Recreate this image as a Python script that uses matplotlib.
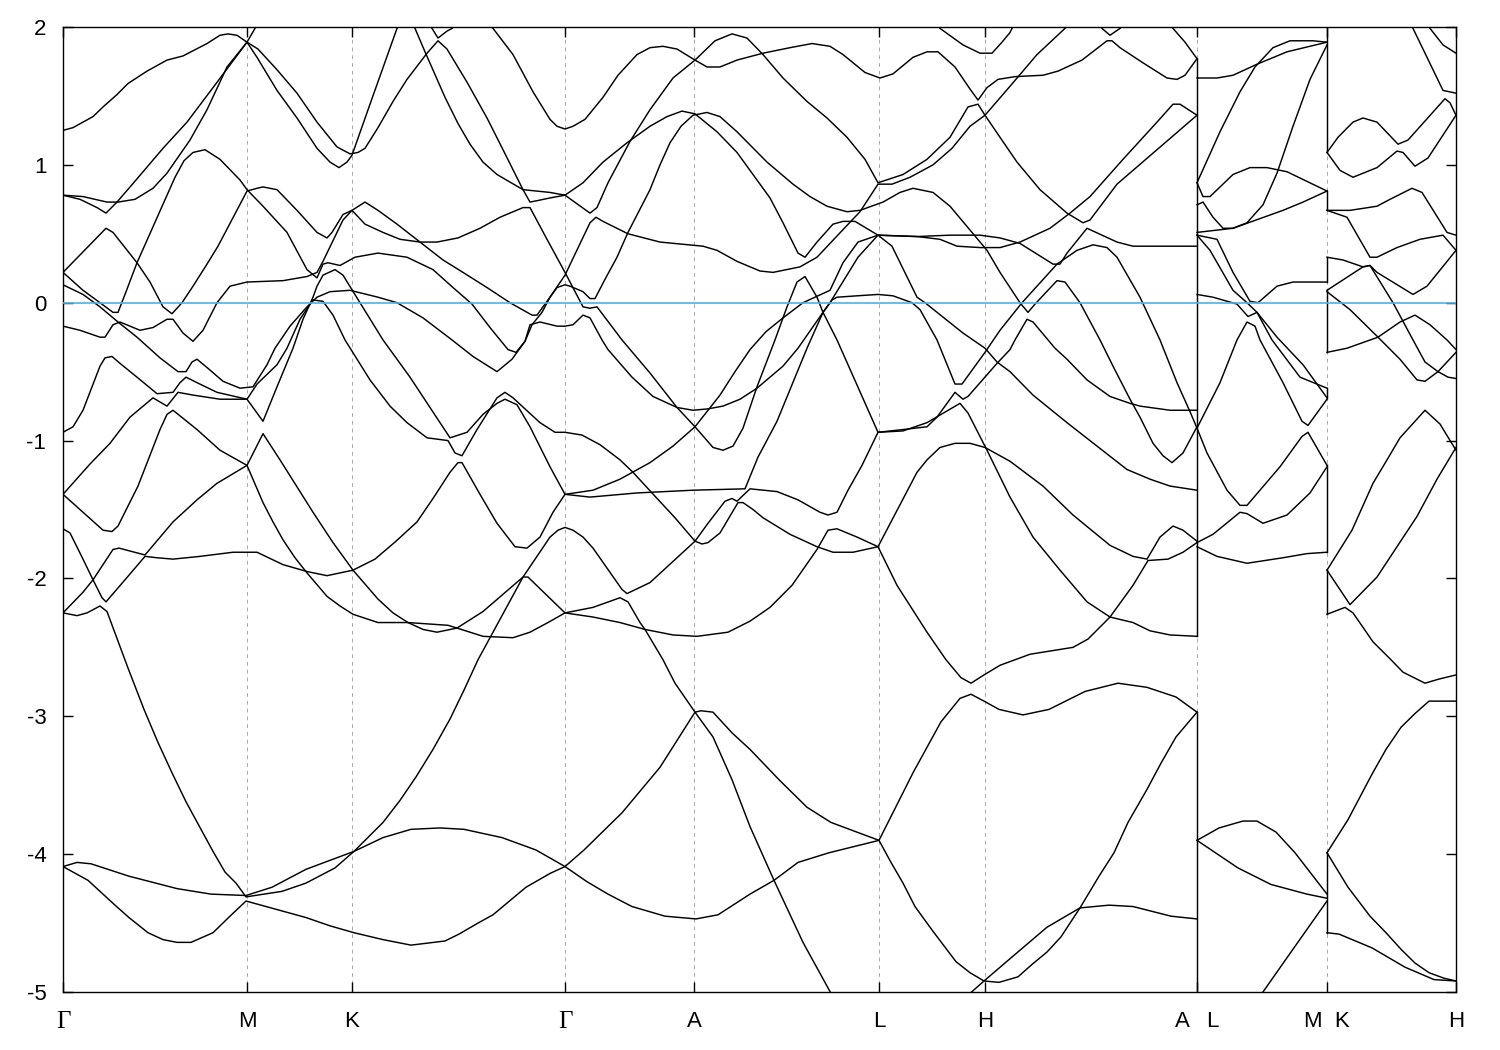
# band structure along the k path, energies in eV
import matplotlib
matplotlib.use('Agg')
import matplotlib.pyplot as plt

# k path ticks
tick_k = [0, 1.84, 2.89, 5.02, 6.31, 8.16, 9.22, 11.34, 12.64, 13.93]
tick_lab = ['\u0393', 'M', 'K', '\u0393', 'A', 'L', 'H', 'A   L', 'M  K', 'H']
e_ticks = [-5, -4, -3, -2, -1, 0, 1, 2]

# bands, as (k, energy)
# first part of the path: Gamma-M-K-Gamma-A-L-H-A
b01 = [(0,1.25),(.10,1.27),(.30,1.35),(.40,1.42),(.54,1.51),(.65,1.59),(.84,1.68),(1.04,1.76),(1.20,1.79),(1.44,1.88),(1.57,1.94),(1.65,1.95),(1.74,1.94),(1.84,1.89),(1.95,1.84),(2.14,1.69),(2.34,1.52),(2.54,1.31),(2.74,1.13),(2.87,1.08),(2.95,1.09),(3.02,1.12),(3.15,1.27),(3.30,1.46),(3.44,1.62),(3.64,1.81),(3.75,1.90),(3.84,1.84),(4.04,1.60),(4.24,1.34),(4.40,1.11),(4.60,.82),(4.67,.73),(4.74,.74),(4.87,.76),(5.02,.78)]
b02 = [(1.84,1.89),(1.94,1.78),(2.14,1.54),(2.34,1.34),(2.54,1.12),(2.67,1.02),(2.76,.98),(2.84,1.02),(2.89,1.07),(3.07,1.44),(3.34,1.99),(3.45,2.12),(3.52,1.99),(3.62,1.82),(3.82,1.49),(3.95,1.30),(4.07,1.15),(4.20,1.02),(4.34,.93),(4.60,.82),(4.87,.80),(5.02,.78)]
b03 = [(0,.78),(.20,.77),(.44,.73),(.55,.73),(.72,.75),(.90,.83),(1.04,.94),(1.27,1.18),(1.44,1.40),(1.64,1.71),(1.84,1.89),(1.92,1.99),(1.97,2.07)]
b04 = [(3.62,2.07),(3.69,1.99),(3.75,1.92),(3.84,1.97),(3.89,1.99),(3.97,2.05),(4.10,2.12),(4.30,1.99),(4.50,1.80),(4.70,1.53),(4.87,1.33),(4.94,1.28),(5.02,1.26),(5.10,1.28),(5.22,1.33),(5.40,1.49),(5.55,1.65),(5.74,1.80),(5.87,1.85),(6.00,1.86),(6.14,1.84),(6.32,1.76),(6.44,1.71),(6.57,1.71),(6.74,1.76),(7.00,1.81),(7.27,1.85),(7.49,1.88),(7.67,1.86),(7.80,1.80),(8.02,1.67),(8.17,1.63),(8.30,1.66),(8.50,1.78),(8.64,1.82),(8.75,1.82),(8.92,1.71),(9.07,1.55),(9.15,1.47),(9.24,1.56),(9.35,1.62),(9.52,1.64),(9.80,1.65),(9.95,1.68),(10.19,1.76),(10.44,1.90),(10.49,1.90),(10.57,1.85),(10.80,1.74),(11.04,1.63),(11.14,1.62),(11.22,1.65),(11.34,1.77)]
b05 = [(0,.78),(.17,.75),(.34,.69),(.43,.65),(.54,.73),(.73,.89),(1.00,1.12),(1.24,1.31),(1.50,1.56),(1.84,1.89)]
b06 = [(0,.22),(.43,.54),(.50,.51),(.74,.29),(.87,.15),(1.00,-.03),(1.09,-.08),(1.19,0),(1.30,.12),(1.44,.28),(1.55,.41),(1.84,.81),(1.94,.83),(2.00,.84),(2.14,.82),(2.34,.67),(2.54,.51),(2.64,.47),(2.69,.51),(2.80,.64),(2.89,.67),(3.02,.73),(3.15,.67),(3.34,.57),(3.57,.44),(3.80,.31),(4.00,.22),(4.24,.11),(4.47,0),(4.69,-.09),(4.74,-.09),(4.80,-.03),(4.94,.11),(5.02,.13),(5.07,.12),(5.20,.08),(5.27,.03),(5.32,.03),(5.42,.17),(5.54,.33),(5.65,.51),(5.87,.82),(5.97,1.00),(6.07,1.16),(6.18,1.28),(6.30,1.36),(6.44,1.38),(6.57,1.35),(6.74,1.24),(7.04,1.02),(7.30,.86),(7.47,.77),(7.64,.70),(7.84,.66),(7.97,.67),(8.20,.73),(8.37,.80),(8.50,.83),(8.70,.80),(8.87,.70),(9.09,.51),(9.24,.38),(9.37,.22),(9.57,0),(9.65,-.07),(9.72,-.01),(9.94,.16),(10.02,.15),(10.17,0),(10.37,-.27),(10.50,-.46),(10.67,-.70),(10.77,-.83),(10.90,-1.02),(11.00,-1.11),(11.09,-1.16),(11.20,-1.09),(11.34,-.90)]
b07 = [(0,.22),(.20,.09),(.37,0),(.50,-.07),(.55,-.07),(.62,.06),(.74,.29),(.93,.60),(1.12,.91),(1.21,1.03),(1.30,1.09),(1.42,1.11),(1.57,1.04),(1.77,.89),(1.84,.82),(2.00,.70),(2.24,.51),(2.44,.24),(2.54,.18),(2.60,.28),(2.65,.29),(2.77,.27),(2.92,.33),(3.15,.36),(3.44,.33),(3.70,.24),(3.90,.11),(4.09,-.01),(4.27,-.18),(4.45,-.34),(4.53,-.36),(4.62,-.28),(4.69,-.16),(4.79,-.07),(4.87,.04),(5.02,.20),(5.27,.58),(5.33,.62),(5.40,.59),(5.65,.50),(5.97,.44),(6.40,.41),(6.54,.38),(6.74,.30),(6.97,.23),(7.10,.22),(7.37,.26),(7.54,.33),(7.80,.53),(7.97,.66),(8.15,.86),(8.29,.86),(8.47,.91),(8.70,1.00),(8.89,1.12),(9.07,1.28),(9.22,1.36),(9.47,1.57),(9.74,1.80),(10.02,1.99),(10.09,2.05)]
b08 = [(0,-.17),(.17,-.20),(.37,-.25),(.42,-.25),(.50,-.16),(.57,-.14),(.77,-.20),(.90,-.18),(1.04,-.12),(1.10,-.12),(1.20,-.22),(1.30,-.28),(1.40,-.20),(1.54,0),(1.67,.12),(1.84,.15),(2.20,.16),(2.44,.19),(2.54,.22),(2.60,.30),(2.80,.60),(2.89,.67),(3.02,.57),(3.20,.51),(3.37,.46),(3.57,.44),(3.74,.44),(3.95,.47),(4.17,.54),(4.37,.62),(4.60,.69),(4.67,.69),(4.84,.46),(5.02,.22),(5.20,-.03),(5.27,-.04),(5.34,-.03),(5.59,-.27),(5.87,-.51),(6.14,-.76),(6.32,-.90),(6.50,-1.05),(6.60,-1.07),(6.70,-1.04),(6.80,-.91),(6.94,-.61),(7.12,-.27),(7.24,-.03),(7.34,.15),(7.42,.19),(7.54,.04),(7.60,-.07),(7.74,-.27),(8.15,-.94),(8.40,-.93),(8.64,-.87),(8.97,-.73),(9.05,-.80),(9.24,-1.07),(9.47,-1.41),(9.70,-1.70),(9.97,-1.94),(10.24,-2.17),(10.47,-2.28),(10.70,-2.32),(10.87,-2.38),(11.07,-2.41),(11.34,-2.42)]
b09 = [(0,.13),(.20,.06),(.37,-.03),(.55,-.14),(.74,-.25),(.97,-.40),(1.15,-.50),(1.23,-.50),(1.29,-.43),(1.34,-.41),(1.44,-.47),(1.60,-.57),(1.77,-.62),(1.90,-.61),(2.04,-.45),(2.12,-.33),(2.27,-.17),(2.44,-.03),(2.54,.04),(2.67,.08),(2.87,.09),(3.15,.04),(3.34,0),(3.60,-.11),(3.89,-.27),(4.10,-.39),(4.34,-.50),(4.49,-.41),(4.62,-.28),(4.67,-.16),(4.77,-.14),(4.94,-.17),(5.02,-.17),(5.10,-.16),(5.20,-.09),(5.27,-.11),(5.39,-.27),(5.45,-.34),(5.69,-.54),(5.90,-.68),(6.14,-.76),(6.30,-.78),(6.45,-.77),(6.60,-.75),(6.77,-.70),(6.94,-.62),(7.20,-.46),(7.35,-.33),(7.60,-.07),(7.67,0),(7.95,.33),(8.15,.49),(8.54,.48),(8.77,.46),(8.94,.41),(9.17,.40),(9.37,.40),(9.57,.44),(9.87,.54),(10.07,.65),(10.27,.77),(10.60,1.04),(10.94,1.31),(11.10,1.44),(11.17,1.44),(11.34,1.36)]
b10 = [(0,-.94),(.10,-.90),(.20,-.78),(.37,-.46),(.42,-.40),(.49,-.39),(.57,-.44),(.74,-.54),(.94,-.66),(1.10,-.65),(1.17,-.58),(1.23,-.54),(1.34,-.58),(1.54,-.65),(1.84,-.70),(1.94,-.59),(2.14,-.45),(2.24,-.33),(2.37,-.12),(2.50,.02),(2.60,.01),(2.70,-.09),(2.82,-.27),(3.07,-.56),(3.27,-.75),(3.44,-.87),(3.64,-.98),(3.85,-1.00),(3.92,-1.09),(3.99,-1.11),(4.14,-.92),(4.34,-.69),(4.42,-.65),(4.50,-.69),(4.77,-.87),(4.92,-.94),(5.02,-.94),(5.19,-.96),(5.37,-1.03),(5.57,-1.14),(5.70,-1.23),(5.89,-1.38),(6.12,-1.56),(6.32,-1.73),(6.39,-1.75),(6.45,-1.74),(6.57,-1.67),(6.75,-1.45),(6.80,-1.45),(6.90,-1.50),(7.00,-1.56),(7.27,-1.68),(7.54,-1.77),(7.70,-1.81),(7.90,-1.81),(8.15,-1.77),(8.54,-1.23),(8.64,-1.14),(8.77,-1.05),(8.92,-1.02),(9.07,-1.02),(9.22,-1.05),(9.47,-1.15),(9.80,-1.33),(10.10,-1.54),(10.47,-1.76),(10.70,-1.84),(10.84,-1.86),(10.97,-1.70),(11.10,-1.62),(11.20,-1.65),(11.34,-1.73)]
b11 = [(0,-1.39),(.27,-1.17),(.47,-1.02),(.67,-.83),(.90,-.69),(1.04,-.75),(1.15,-.65),(1.30,-.67),(1.57,-.70),(1.84,-.70),(2.00,-.86),(2.14,-.61),(2.30,-.33),(2.40,-.12),(2.50,.04),(2.54,.12),(2.60,.20),(2.72,.24),(2.80,.20),(2.97,0),(3.20,-.27),(3.47,-.54),(3.87,-.98),(4.04,-.94),(4.20,-.81),(4.34,-.73),(4.42,-.70),(4.54,-.74),(4.67,-.90),(4.87,-1.19),(5.02,-1.39),(5.27,-1.41),(5.74,-1.38),(6.30,-1.36),(6.82,-1.35),(6.95,-1.12),(7.14,-.86),(7.44,-.33),(7.60,-.07),(7.69,.02),(7.74,.04),(7.94,.05),(8.15,.06),(8.30,.05),(8.49,0),(8.57,-.05),(8.74,-.27),(8.92,-.59),(8.99,-.59),(9.22,-.36),(9.37,-.20),(9.59,0),(9.94,.28),(10.14,.38),(10.30,.42),(10.44,.40),(10.54,.33),(10.77,.04),(10.97,-.27),(11.14,-.58),(11.27,-.79),(11.34,-.91)]
b12 = [(0,-1.39),(.20,-1.52),(.40,-1.65),(.49,-1.66),(.55,-1.62),(.75,-1.33),(.97,-.92),(1.04,-.81),(1.10,-.78),(1.34,-.92),(1.57,-1.07),(1.84,-1.18),(2.00,-1.45),(2.10,-1.59),(2.20,-1.72),(2.32,-1.85),(2.44,-1.96),(2.64,-2.13),(2.77,-2.20),(2.90,-2.26),(3.15,-2.32),(3.45,-2.32),(3.85,-2.34),(3.94,-2.36),(4.20,-2.42),(4.50,-2.43),(4.67,-2.39),(4.85,-2.32),(5.02,-2.25),(5.30,-2.28),(5.57,-2.32),(5.82,-2.37),(6.10,-2.41),(6.34,-2.42),(6.65,-2.39),(6.87,-2.31),(7.07,-2.21),(7.29,-2.05),(7.54,-1.79),(7.65,-1.65),(7.74,-1.64),(7.94,-1.70),(8.15,-1.77),(8.34,-2.05),(8.64,-2.39),(8.83,-2.59),(8.98,-2.72),(9.08,-2.76),(9.21,-2.70),(9.37,-2.63),(9.67,-2.55),(10.10,-2.50),(10.25,-2.44),(10.47,-2.28),(10.70,-2.05),(10.85,-1.87),(11.05,-1.86),(11.20,-1.81),(11.34,-1.74)]
b13 = [(0,-2.25),(.20,-2.10),(.30,-2.01),(.50,-1.79),(.56,-1.78),(.82,-1.83),(1.10,-1.59),(1.34,-1.43),(1.54,-1.31),(1.84,-1.18),(2.00,-.95),(2.17,-1.14),(2.50,-1.52),(2.70,-1.74),(2.90,-1.94),(3.15,-2.15),(3.30,-2.25),(3.45,-2.32),(3.60,-2.37),(3.74,-2.39),(3.94,-2.36),(4.20,-2.24),(4.60,-1.99),(4.65,-1.99),(5.02,-2.25),(5.30,-2.21),(5.57,-2.14),(5.65,-2.17),(5.77,-2.32),(5.82,-2.37),(6.00,-2.59),(6.12,-2.76),(6.32,-2.97),(6.50,-3.15),(6.69,-3.46),(6.87,-3.80),(7.11,-4.19),(7.40,-4.64),(7.68,-5.01)]
b14 = [(0,-1.64),(.07,-1.67),(.20,-1.86),(.30,-2.01),(.39,-2.14),(.43,-2.17),(.62,-2.01),(.82,-1.84),(.94,-1.85),(1.10,-1.86),(1.37,-1.84),(1.70,-1.81),(1.94,-1.81),(2.20,-1.90),(2.44,-1.95),(2.64,-1.98),(2.90,-1.94),(3.12,-1.86),(3.33,-1.73),(3.54,-1.59),(3.70,-1.42),(3.87,-1.23),(3.95,-1.16),(3.99,-1.16),(4.17,-1.39),(4.34,-1.60),(4.52,-1.77),(4.64,-1.78),(4.77,-1.70),(4.90,-1.52),(5.02,-1.39),(5.30,-1.36),(5.57,-1.28),(5.87,-1.16),(6.10,-1.04),(6.32,-.90),(6.57,-.67),(6.72,-.50),(6.87,-.34),(7.03,-.21),(7.20,-.11),(7.40,0),(7.67,.09),(7.80,.29),(7.95,.44),(8.15,.49),(8.54,.48),(8.87,.49),(9.17,.49),(9.37,.47),(9.57,.43),(9.90,.28),(9.97,.28),(10.04,.36),(10.24,.54),(10.54,.44),(10.70,.41),(10.97,.41),(11.34,.41)]
b15 = [(0,-2.25),(.14,-2.27),(.24,-2.25),(.37,-2.20),(.44,-2.24),(.65,-2.65),(.81,-2.95),(.95,-3.19),(1.09,-3.41),(1.23,-3.62),(1.38,-3.82),(1.50,-3.98),(1.62,-4.13),(1.73,-4.21),(1.83,-4.31),(2.19,-4.27),(2.43,-4.21),(2.72,-4.10),(2.91,-3.98),(3.20,-3.77),(3.37,-3.61),(3.53,-3.44),(3.70,-3.24),(3.87,-3.02),(4.01,-2.81),(4.15,-2.59),(4.30,-2.39),(4.60,-1.99),(4.87,-1.70),(4.95,-1.65),(5.02,-1.63),(5.10,-1.65),(5.20,-1.70),(5.30,-1.78),(5.59,-2.08),(5.64,-2.11),(5.87,-2.03),(6.32,-1.73),(6.45,-1.60),(6.62,-1.44),(6.69,-1.42),(6.74,-1.44),(6.87,-1.35),(7.14,-1.37),(7.35,-1.43),(7.57,-1.52),(7.65,-1.54),(7.74,-1.52),(7.85,-1.36),(7.99,-1.18),(8.15,-.94),(8.40,-.92),(8.64,-.90),(8.74,-.83),(8.92,-.65),(9.00,-.70),(9.05,-.68),(9.34,-.44),(9.47,-.34),(9.52,-.27),(9.64,-.12),(9.70,-.14),(9.92,-.33),(10.04,-.41),(10.24,-.56),(10.47,-.68),(10.67,-.73),(10.77,-.75),(11.07,-.78),(11.24,-.78),(11.34,-.78)]
b16 = [(0,-4.09),(.14,-4.06),(.28,-4.07),(.66,-4.16),(1.14,-4.25),(1.48,-4.29),(1.83,-4.30),(2.09,-4.24),(2.43,-4.11),(2.91,-3.98),(3.20,-3.88),(3.48,-3.82),(3.77,-3.81),(4.01,-3.82),(4.39,-3.88),(4.73,-3.97),(5.02,-4.09),(5.24,-4.20),(5.45,-4.29),(5.69,-4.38),(6.02,-4.45),(6.33,-4.47),(6.55,-4.44),(6.87,-4.29),(7.11,-4.19),(7.35,-4.06),(7.66,-3.99),(8.16,-3.90),(8.28,-4.06),(8.40,-4.21),(8.52,-4.38),(8.69,-4.55),(8.93,-4.78),(9.07,-4.86),(9.21,-4.92),(9.36,-4.93),(9.55,-4.89),(9.69,-4.80),(9.84,-4.71),(9.98,-4.60),(10.17,-4.39),(10.36,-4.16),(10.51,-3.99),(10.65,-3.77),(10.84,-3.53),(10.98,-3.34),(11.13,-3.15),(11.34,-2.97)]
b17 = [(0,-4.09),(.25,-4.19),(.52,-4.37),(.66,-4.46),(.85,-4.57),(1.00,-4.62),(1.14,-4.64),(1.28,-4.64),(1.50,-4.57),(1.67,-4.45),(1.83,-4.34),(2.43,-4.46),(2.67,-4.52),(2.91,-4.57),(3.20,-4.62),(3.48,-4.66),(3.82,-4.63),(3.96,-4.58),(4.15,-4.50),(4.30,-4.44),(4.63,-4.24),(4.87,-4.14),(5.02,-4.09),(5.21,-3.97),(5.59,-3.70),(5.97,-3.37),(6.32,-2.97),(6.38,-2.96),(6.50,-2.97),(6.69,-3.12),(6.87,-3.24),(7.16,-3.46),(7.44,-3.66),(7.68,-3.77),(8.16,-3.90),(8.50,-3.41),(8.78,-3.04),(8.97,-2.87),(9.08,-2.84),(9.21,-2.89),(9.36,-2.95),(9.60,-2.99),(9.86,-2.95),(10.22,-2.82),(10.55,-2.76),(10.84,-2.79),(11.13,-2.86),(11.34,-2.97)]
b18 = [(9.07,-5.01),(9.21,-4.92),(9.50,-4.74),(9.84,-4.53),(10.17,-4.39),(10.46,-4.37),(10.70,-4.38),(11.08,-4.45),(11.34,-4.47)]
b19 = [(5.02,.78),(5.27,.65),(5.34,.69),(5.45,.87),(5.67,1.17),(5.87,1.40),(6.10,1.63),(6.32,1.76),(6.52,1.90),(6.69,1.95),(6.84,1.92),(7.00,1.80),(7.20,1.63),(7.44,1.46),(7.64,1.34),(7.84,1.20),(8.02,1.04),(8.15,.87),(8.40,.93),(8.64,1.04),(8.87,1.20),(9.05,1.42),(9.15,1.44),(9.22,1.36),(9.37,1.20),(9.54,1.02),(9.77,.82),(10.04,.65),(10.20,.58),(10.27,.60),(10.54,.86),(10.94,1.11),(11.34,1.36)]
b20 = [(5.02,.78),(5.20,.87),(5.40,1.02),(5.64,1.16),(5.87,1.28),(6.04,1.35),(6.19,1.39),(6.32,1.37),(6.54,1.24),(6.74,1.09),(6.87,.96),(7.07,.76),(7.20,.58),(7.35,.36),(7.42,.33),(7.54,.44),(7.70,.57),(7.80,.59),(7.92,.59),(8.15,.49),(8.29,.41),(8.54,.04),(8.62,0),(9.00,-.22),(9.22,-.33),(9.34,-.43),(9.47,-.50),(9.70,-.67),(10.04,-.87),(10.34,-1.04),(10.64,-1.21),(10.87,-1.28),(11.07,-1.33),(11.34,-1.36)]
b21 = [(8.69,2.05),(8.77,1.99),(9.00,1.87),(9.17,1.81),(9.29,1.81),(9.39,1.89),(9.47,1.96),(9.53,2.05)]
b22 = [(10.32,2.05),(10.39,1.99),(10.47,1.94),(10.57,1.99),(10.65,2.05)]
b23 = [(11.02,2.05),(11.10,1.99),(11.22,1.89),(11.34,1.77)]

# L-M
lm01 = [(11.34,.87),(11.57,1.24),(11.77,1.53),(11.92,1.71),(12.10,1.85),(12.27,1.90),(12.50,1.90),(12.64,1.89)]
lm02 = [(11.34,1.63),(11.54,1.63),(11.70,1.65),(11.94,1.73),(12.24,1.82),(12.64,1.89)]
lm03 = [(11.34,.51),(11.70,.54),(12.20,.67),(12.40,.73),(12.64,.81)]
lm04 = [(11.34,.87),(11.40,.77),(11.47,.77),(11.70,.93),(11.87,.98),(12.04,.98),(12.24,.95),(12.64,.81)]
lm05 = [(11.34,.71),(11.40,.73),(11.50,.62),(11.60,.54),(11.70,.54),(11.84,.58),(12.00,.71),(12.14,.94),(12.30,1.28),(12.47,1.62),(12.64,1.87)]
lm06 = [(11.34,.49),(11.54,.46),(11.70,.22),(11.87,.01),(11.95,0),(12.14,.12),(12.30,.15),(12.64,.15)]
lm07 = [(11.34,.49),(11.47,.38),(11.70,.09),(11.84,0),(11.94,-.07),(12.14,-.25),(12.40,-.45),(12.64,-.69)]
lm08 = [(11.34,.06),(11.50,.04),(11.74,-.01),(11.85,-.10),(11.94,-.07),(12.09,-.27),(12.37,-.54),(12.64,-.62)]
lm09 = [(11.34,-.91),(11.57,-.58),(11.74,-.27),(11.84,-.14),(11.92,-.17),(11.97,-.27),(12.20,-.58),(12.39,-.86),(12.45,-.89),(12.64,-.70)]
lm10 = [(11.34,-.91),(11.44,-1.09),(11.64,-1.36),(11.77,-1.47),(11.84,-1.47),(12.17,-1.19),(12.39,-.97),(12.45,-.94),(12.64,-1.18)]
lm11 = [(11.34,-1.74),(11.50,-1.68),(11.77,-1.52),(11.84,-1.53),(12.00,-1.60),(12.24,-1.54),(12.47,-1.38),(12.64,-1.19)]
lm12 = [(11.34,-1.77),(11.54,-1.84),(11.84,-1.89),(12.20,-1.85),(12.44,-1.82),(12.64,-1.81)]
lm13 = [(11.34,-3.90),(11.56,-3.81),(11.80,-3.76),(11.94,-3.76),(12.13,-3.84),(12.32,-3.99),(12.64,-4.29)]
lm14 = [(11.34,-3.90),(11.75,-4.10),(12.08,-4.22),(12.44,-4.29),(12.64,-4.32)]
lm15 = [(11.99,-5.01),(12.28,-4.71),(12.64,-4.34)]

# K-H
kh01 = [(12.64,1.09),(12.75,1.20),(12.90,1.31),(13.00,1.34),(13.14,1.31),(13.35,1.15),(13.45,1.18),(13.82,1.48),(13.87,1.45),(13.93,1.36)]
kh02 = [(12.64,1.09),(12.77,.96),(12.90,.91),(13.14,.98),(13.34,1.10),(13.40,1.09),(13.52,.99),(13.65,1.05),(13.93,1.36)]
kh03 = [(13.45,2.05),(13.50,1.99),(13.80,1.54),(13.93,1.52)]
kh04 = [(13.62,2.05),(13.67,1.99),(13.80,1.87),(13.93,1.81)]
kh05 = [(12.64,.67),(12.87,.67),(13.14,.70),(13.27,.75),(13.49,.83),(13.59,.80),(13.84,.51),(13.93,.49)]
kh06 = [(12.64,.67),(12.84,.62),(13.07,.33),(13.14,.33),(13.34,.40),(13.57,.46),(13.80,.49),(13.93,.38)]
kh07 = [(12.64,.09),(13.00,.26),(13.07,.27),(13.14,.22),(13.50,.06),(13.64,.12),(13.93,.38)]
kh08 = [(12.64,.33),(12.80,.31),(13.00,.26),(13.07,.27),(13.30,0),(13.50,-.27),(13.62,-.43),(13.75,-.50),(13.85,-.54),(13.93,-.55)]
kh09 = [(12.64,.08),(12.87,-.05),(13.15,-.25),(13.37,-.41),(13.54,-.56),(13.62,-.57),(13.75,-.50),(13.93,-.36)]
kh10 = [(12.64,-.36),(12.84,-.33),(13.15,-.25),(13.37,-.14),(13.52,-.09),(13.67,-.16),(13.84,-.27),(13.93,-.34)]
kh11 = [(12.64,-1.94),(12.89,-1.65),(13.10,-1.31),(13.24,-1.14),(13.37,-.98),(13.62,-.78),(13.77,-.88),(13.93,-1.07)]
kh12 = [(12.64,-1.94),(12.87,-2.19),(13.14,-1.99),(13.34,-1.77),(13.54,-1.55),(13.74,-1.28),(13.93,-1.05)]
kh13 = [(12.64,-2.26),(12.82,-2.21),(12.90,-2.25),(13.10,-2.46),(13.28,-2.59),(13.40,-2.68),(13.62,-2.76),(13.76,-2.73),(13.93,-2.70)]
kh14 = [(12.64,-3.99),(12.85,-3.75),(13.09,-3.42),(13.23,-3.24),(13.38,-3.08),(13.52,-2.98),(13.66,-2.89),(13.93,-2.89)]
kh15 = [(12.64,-3.99),(12.85,-4.24),(13.07,-4.45),(13.23,-4.57),(13.38,-4.69),(13.52,-4.79),(13.66,-4.86),(13.81,-4.90),(13.93,-4.92)]
kh16 = [(12.64,-4.57),(12.76,-4.58),(13.09,-4.68),(13.42,-4.82),(13.71,-4.91),(13.93,-4.92)]

# vertical jumps where the path is broken
jump_al = [(1.77,-2.42),(-2.97,-5.05)]
jump_mk = [(2.05,1.09),(.81,.67),(.33,.15),(.09,-.36),(-.62,-.69),(-1.18,-1.81),(-1.94,-2.26),(-3.99,-4.57)]

bands = [b01,b02,b03,b04,b05,b06,b07,b08,b09,b10,b11,b12,b13,b14,b15,b16,b17,b18,b19,b20,b21,b22,b23,
         lm01,lm02,lm03,lm04,lm05,lm06,lm07,lm08,lm09,lm10,lm11,lm12,lm13,lm14,lm15,
         kh01,kh02,kh03,kh04,kh05,kh06,kh07,kh08,kh09,kh10,kh11,kh12,kh13,kh14,kh15,kh16]

plt.rcParams['font.family'] = ['Liberation Sans', 'DejaVu Sans']
plt.rcParams['axes.unicode_minus'] = False

fig = plt.figure(figsize=(15, 10.5), dpi=100)
ax = fig.add_axes([63/1500, 58/1050, 1393/1500, 965/1050])

# k points
ax.grid(axis='x', color='#a8a8a8', lw=0.7, ls=(0, (4, 4)), zorder=1)

# the bands
for b in bands:
    ax.plot([p[0] for p in b], [p[1] for p in b], color='black', lw=1.05, zorder=3)
for top, low in jump_al:
    ax.plot([tick_k[7], tick_k[7]], [top, low], color='black', lw=1.05, zorder=3)
for top, low in jump_mk:
    ax.plot([tick_k[8], tick_k[8]], [top, low], color='black', lw=1.05, zorder=3)

# Fermi level
ax.axhline(0, color='#4fb0e6', lw=1.2, zorder=4)

ax.set_xlim(0, 13.93)
ax.set_ylim(-5, 2)
ax.set_xticks(tick_k)
ax.set_xticklabels(tick_lab)
ax.set_yticks(e_ticks)
ax.tick_params(axis='both', direction='in', length=7, width=1.0, labelsize=16,
               top=True, right=True)
ax.tick_params(axis='x', pad=13.5)
ax.tick_params(axis='y', pad=12)
for lab in ax.get_xticklabels():
    if lab.get_text() == '\u0393':
        lab.set_family('Liberation Serif')
        lab.set_fontsize(18)
for s in ax.spines.values():
    s.set_linewidth(1.0)

fig.savefig('out.png', dpi=100)
